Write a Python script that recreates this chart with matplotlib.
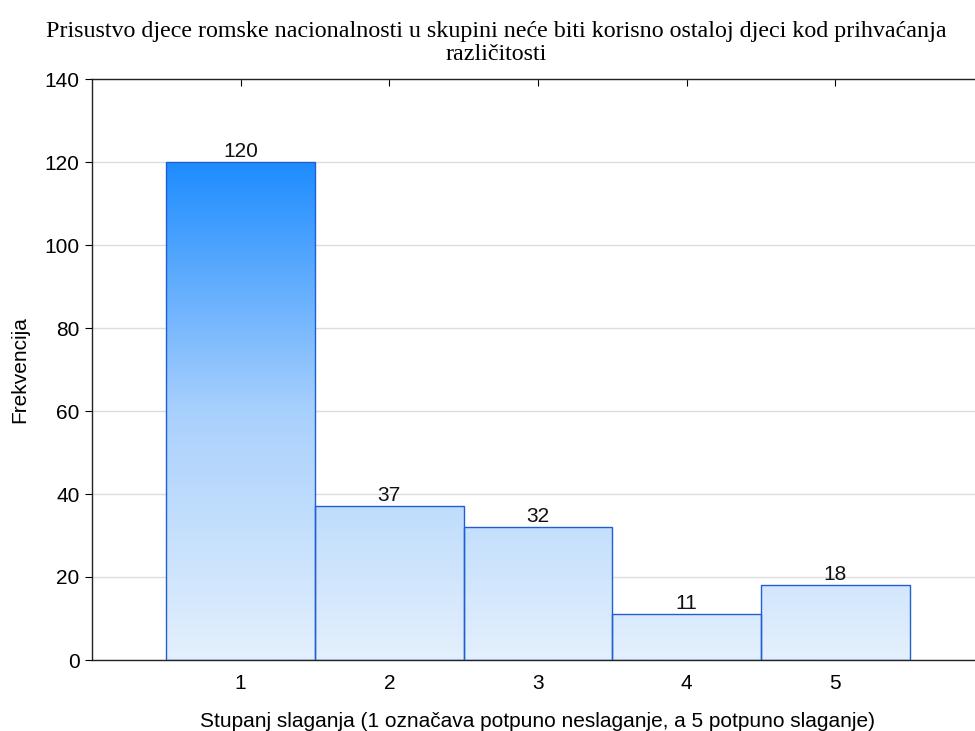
import matplotlib
matplotlib.use("Agg")
import matplotlib.pyplot as plt
import numpy as np
from matplotlib.colors import LinearSegmentedColormap

categories = [1, 2, 3, 4, 5]
values = [120, 37, 32, 11, 18]
yticks = [0, 20, 40, 60, 80, 100, 120, 140]

title = "Prisustvo djece romske nacionalnosti u skupini neće biti korisno ostaloj djeci kod prihvaćanja\nrazličitosti"
xlabel = "Stupanj slaganja (1 označava potpuno neslaganje, a 5 potpuno slaganje)"
ylabel = "Frekvencija"

plt.rcParams['font.family'] = ['Liberation Sans', 'DejaVu Sans']

fig = plt.figure(figsize=(9.75, 7.31), dpi=100)
ax = fig.add_axes([92/975, 1-660/731, (984-92)/975, (660-79)/731])

cmap = LinearSegmentedColormap.from_list("g", ["#e4f0fd", "#a8d0fc", "#1e8cff"])
grad = np.linspace(0, 1, 256).reshape(-1, 1)

bars = ax.bar(categories, values, width=1.0, facecolor='none', edgecolor='#1f5fd0', linewidth=1.0, zorder=3)
for b in bars:
    im = ax.imshow(grad, cmap=cmap, origin='lower', extent=(0, 6, 0, 120),
                   aspect='auto', zorder=2, interpolation='bilinear')
    im.set_clip_path(b)
ax.set_xlim(0, 6)
ax.set_ylim(0, 140)

for x, v in zip(categories, values):
    ax.text(x, v + 0.3, str(v), ha='center', va='bottom', fontsize=15, color='#111111', zorder=4)

ax.set_yticks(yticks)
ax.set_xticks(categories)
ax.yaxis.grid(True, color='#dcdcdc', linewidth=1.0, zorder=0)
ax.set_axisbelow(True)
ax.tick_params(axis='x', direction='in', top=True, bottom=True, length=5, labelsize=15, pad=10)
ax.tick_params(axis='y', direction='out', left=True, right=False, length=5, labelsize=15, pad=4)
for s in ax.spines.values():
    s.set_linewidth(1.0)
    s.set_color('#222222')

ax.set_xlabel(xlabel, fontsize=15, labelpad=14)
ax.set_ylabel(ylabel, fontsize=15, labelpad=11)

fig.text(496/975, 1-21/731, title, ha='center', va='top', fontsize=17.3,
         family=['Liberation Serif', 'DejaVu Serif'], linespacing=1.15)

fig.savefig("out.png", dpi=100)
